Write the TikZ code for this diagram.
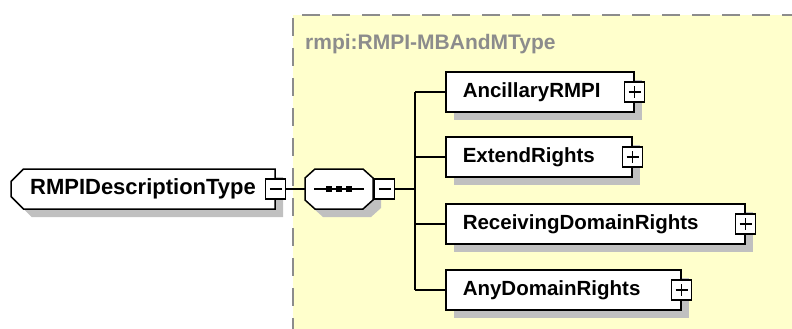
\documentclass[tikz,border=0pt]{standalone}
\usepackage{fontspec}
\setmainfont{Liberation Sans}
\usetikzlibrary{shapes.misc,shadows}

\definecolor{groupfill}{HTML}{FFFFCC}
\definecolor{groupline}{HTML}{8C8C8C}
\definecolor{shade}{HTML}{C0C0C0}

\tikzset{
    shade/.style={drop shadow={shadow xshift=8pt, shadow yshift=-8pt, opacity=1, fill=shade}},
    box/.style={draw, fill=white, line width=1.5pt, minimum height=40pt, inner sep=0pt,
        font=\fontsize{20.5}{24}\selectfont\bfseries, shade},
    elem/.style={box, anchor=west, inner xsep=17pt, text width=#1, align=left},
    btn/.style={draw, fill=white, line width=1.2pt, minimum size=20pt, inner sep=0pt},
    minusbtn/.style={btn, path picture={
        \draw[line width=1.2pt]([xshift=4pt]path picture bounding box.west)--([xshift=-4pt]path picture bounding box.east);}},
    plusbtn/.style={btn, path picture={
        \draw[line width=1.2pt]([xshift=4pt]path picture bounding box.west)--([xshift=-4pt]path picture bounding box.east);
        \draw[line width=1.2pt]([yshift=-4pt]path picture bounding box.north)--([yshift=4pt]path picture bounding box.south);}},
    conn/.style={line width=1.5pt},
}

\begin{document}
\begin{tikzpicture}[x=1pt, y=-1pt]
    \useasboundingbox(0,0)rectangle(792,329);

    % group area
    \fill[groupfill](293,15)rectangle(800,335);
    \draw[groupline, line width=2pt, dash pattern=on 18pt off 12pt](800,15)--(293,15)--(293,335);
    \node[anchor=base west, inner sep=0pt, text=groupline, font=\fontsize{21}{24}\selectfont\bfseries](grouplabel)at(305,50){rmpi:RMPI-MBAndMType};

    % root and sequence
    \node[box, chamfered rectangle, chamfered rectangle corners={north west,south west},
        chamfered rectangle xsep=9pt, minimum width=264pt, font=\fontsize{22}{24}\selectfont\bfseries](root)at(143,189){RMPIDescriptionType\hspace{10pt}};
    \node[minusbtn](root-btn)at(root.east){};
    \node[minimum width=68pt, minimum height=40pt, inner sep=0pt](seq)at(339,189){};
    \filldraw[fill=white, line width=1.5pt, shade]
        ([shift={(-34,-11)}]seq.center)--([shift={(-24,-20)}]seq.center)--([shift={(24,-20)}]seq.center)--([shift={(34,-11)}]seq.center)
        --([shift={(34,11)}]seq.center)--([shift={(24,20)}]seq.center)--([shift={(-24,20)}]seq.center)--([shift={(-34,11)}]seq.center)--cycle;
    \node[minusbtn, anchor=west](seq-btn)at([xshift=1pt]seq.east){};
    \draw[conn]([xshift=-25pt]seq.center)--([xshift=25pt]seq.center);
    \foreach \dx in {-10,0,10}
        \fill([shift={(\dx-2.8,-2.8)}]seq.center)rectangle([shift={(\dx+2.8,2.8)}]seq.center);
    \coordinate(jn)at(415,189);

    % children
    \node[elem=154pt](ancillary)at(445,92){AncillaryRMPI};
    \node[plusbtn](ancillary-btn)at(ancillary.east){};
    \node[elem=152pt](extend)at(445,157){ExtendRights};
    \node[plusbtn](extend-btn)at(extend.east){};
    \node[elem=265pt](receiving)at(445,224){ReceivingDomainRights};
    \node[plusbtn](receiving-btn)at(receiving.east){};
    \node[elem=201pt](any)at(445,290){AnyDomainRights};
    \node[plusbtn](any-btn)at(any.east){};

    % connectors
    \draw[conn](root-btn.east)--(seq.west);
    \draw[conn](seq-btn.east)--(jn);
    \draw[conn](ancillary.west -| jn)--(any.west -| jn);
    \foreach \n in {ancillary,extend,receiving,any}
        \draw[conn](\n.west -| jn)--(\n.west);
\end{tikzpicture}
\end{document}
